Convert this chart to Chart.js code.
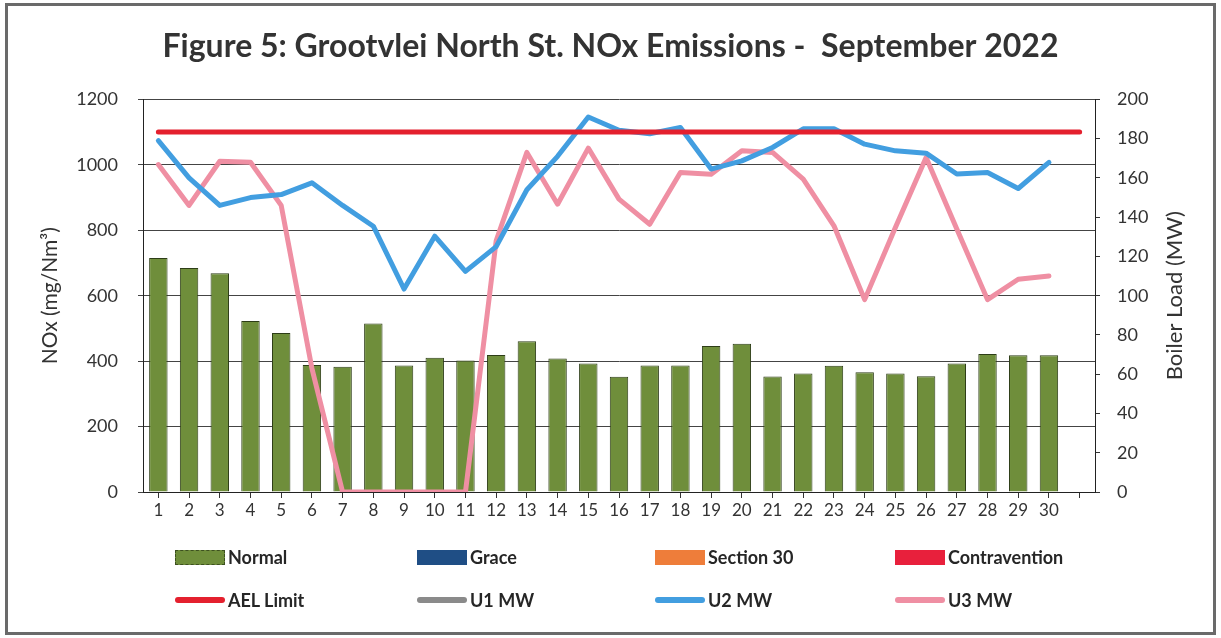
<!DOCTYPE html>
<html>
<head>
<meta charset="utf-8">
<script src="https://cdn.jsdelivr.net/npm/chart.js@4.4.1/dist/chart.umd.min.js"></script>
<style>
  body { margin: 0; background: #fff; }
  #wrap { position: relative; width: 1221px; height: 638px; font-family: Lato, sans-serif; }
  #frame { position: absolute; left: 5px; top: 3px; width: 1211px; height: 632px;
           border: 3px solid #6a6a6a; box-sizing: border-box; pointer-events: none; }
  #legend .item { position: absolute; display: flex; align-items: center; height: 24px;
                  font: bold 18px Lato, sans-serif; color: #262626; }
  #legend .sw { width: 50px; margin-right: 3px; box-sizing: border-box; }
</style>
</head>
<body>
<div id="wrap">
  <canvas id="emChart" width="1221" height="638"></canvas>
  <div id="legend"></div>
  <div id="frame"></div>
</div>
<script>
const days = ["1","2","3","4","5","6","7","8","9","10","11","12","13","14","15",
  "16","17","18","19","20","21","22","23","24","25","26","27","28","29","30",""];

// NOx, mg/Nm3 (left axis)
const normal = [715, 685, 669, 523, 486, 388, 383, 515, 387, 410, 402, 419, 461, 408, 393,
  352, 387, 387, 446, 453, 353, 362, 386, 366, 362, 354, 393, 422, 418, 418];
const grace = [];
const section30 = [];
const contravention = [];
const aelLimit = [1100, 1100, 1100, 1100, 1100, 1100, 1100, 1100, 1100, 1100, 1100, 1100,
  1100, 1100, 1100, 1100, 1100, 1100, 1100, 1100, 1100, 1100, 1100, 1100, 1100, 1100,
  1100, 1100, 1100, 1100, 1100];

// boiler load, MW (right axis)
const u1 = [];
const u2 = [179, 160, 146, 150, 151.5, 157.5, 146, 135.4, 103.4, 130.3, 112.4, 125, 154, 171, 191,
  184.3, 182.5, 185.7, 164.5, 168.7, 175.5, 185, 185, 177.2, 173.8, 172.6, 162, 162.8, 154.6, 167.9];
const u3 = [166.8, 146, 168.5, 168, 146, 63, 0, 0, 0, 0, 0, 128, 173, 146.6, 175.2,
  149.2, 136.4, 162.8, 161.9, 173.8, 173, 159.4, 135.6, 98, 134.7, 170.4, 134, 98, 108.4, 110];

const tickFont = { family: "Lato", size: 18 };
const ink = "#333";

function bar(label, data, color) {
  return { type: "bar", label, data, yAxisID: "y", backgroundColor: color,
    borderColor: "#2d3d17", borderWidth: 1, grouped: false,
    barPercentage: 0.6, categoryPercentage: 1, order: 10 };
}
function line(label, data, color, axis) {
  return { type: "line", label, data, yAxisID: axis, borderColor: color, backgroundColor: color,
    borderWidth: 5, pointRadius: 0, tension: 0, borderJoinStyle: "round",
    borderCapStyle: "round", order: 1 };
}

const datasets = [
  bar("Normal", normal, "#6f8e3b"),
  bar("Grace", grace, "#1f4e85"),
  bar("Section 30", section30, "#ee7d3a"),
  bar("Contravention", contravention, "#e8203c"),
  line("AEL Limit", aelLimit, "#e4202e", "y"),
  line("U1 MW", u1, "#8a8a8a", "y1"),
  line("U2 MW", u2, "#429ee0", "y1"),
  line("U3 MW", u3, "#ef8fa3", "y1")
];

// Excel puts the right title reading bottom-to-top, chart.js rotates it the other way
const rightTitle = {
  id: "rightTitle",
  afterDraw(chart) {
    const { ctx, chartArea } = chart;
    const s = chart.scales.y1;
    ctx.save();
    ctx.translate(s.right - 46, (chartArea.top + chartArea.bottom) / 2);
    ctx.rotate(-Math.PI / 2);
    ctx.font = "22px Lato";
    ctx.fillStyle = ink;
    ctx.textAlign = "center";
    ctx.textBaseline = "middle";
    ctx.fillText("Boiler Load (MW)", 0, 0);
    ctx.restore();
  }
};

const chart = new Chart(document.getElementById("emChart"), {
  data: { labels: days, datasets },
  options: {
    responsive: false,
    animation: false,
    layout: { padding: { left: 0, right: 0, top: 0, bottom: 116 } },
    plugins: {
      legend: { display: false },
      tooltip: { enabled: false },
      title: {
        display: true,
        text: "Figure 5: Grootvlei North St. NOx Emissions -  September 2022",
        font: { family: "Lato", size: 32, weight: "bold" },
        color: ink,
        padding: { top: 27, bottom: 34 }
      }
    },
    scales: {
      x: {
        offset: true,
        afterFit: s => { s.height = 30; },
        grid: { offset: false, drawOnChartArea: false, tickLength: 6, color: "#333" },
        border: { color: "#222" },
        ticks: { font: { family: "Lato", size: 17 }, color: ink, maxRotation: 0,
                 autoSkip: false, padding: 2 }
      },
      y: {
        position: "left", min: 0, max: 1200,
        afterFit: s => { s.width = 143; },
        ticks: { stepSize: 200, font: tickFont, color: ink, padding: 20,
                 format: { useGrouping: false } },
        grid: { color: "#444", tickLength: 5 },
        border: { color: "#222" },
        title: { display: true, text: "NOx (mg/Nm³)", font: { family: "Lato", size: 21 },
                 color: ink, padding: { top: 38, bottom: 0 } }
      },
      y1: {
        position: "right", min: 0, max: 200,
        afterFit: s => { s.width = 126; },
        ticks: { stepSize: 20, font: tickFont, color: ink, padding: 17 },
        grid: { drawOnChartArea: false, tickLength: 5, color: "#333" },
        border: { color: "#222" }
      }
    }
  },
  plugins: [rightTitle]
});

// legend, laid out in 4 columns x 2 rows like the original
const legendEl = document.getElementById("legend");
const colX = [175, 417, 655, 895];
const rowY = [545, 588];
chart.data.datasets.forEach((ds, i) => {
  const item = document.createElement("div");
  item.className = "item";
  item.style.left = colX[i % 4] + "px";
  item.style.top = rowY[Math.floor(i / 4)] + "px";
  const sw = document.createElement("span");
  sw.className = "sw";
  if (ds.type === "bar") {
    sw.style.height = "15px";
    sw.style.background = ds.backgroundColor;
    if (ds.label === "Normal") sw.style.border = "1px dashed #3d5020";
  } else {
    sw.style.height = "6px";
    sw.style.borderRadius = "3px";
    sw.style.background = ds.borderColor;
  }
  item.appendChild(sw);
  item.appendChild(document.createTextNode(ds.label));
  legendEl.appendChild(item);
});
</script>
</body>
</html>
